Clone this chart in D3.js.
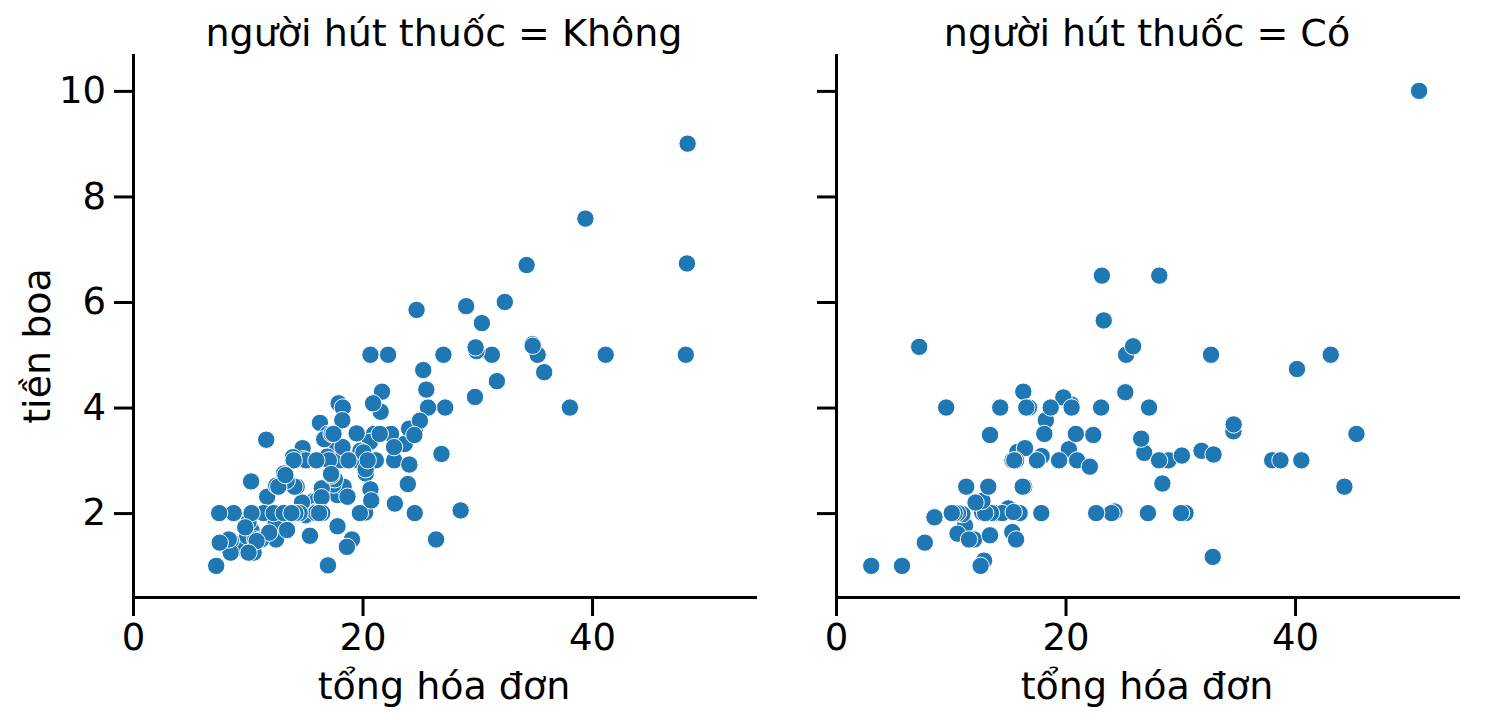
<!DOCTYPE html>
<html>
<head>
<meta charset="utf-8">
<script src="https://cdn.jsdelivr.net/npm/d3@7"></script>
<style>
  body { margin: 0; background: #fff; }
  svg text { font-family: "DejaVu Sans", sans-serif; fill: #000; }
</style>
</head>
<body>
<div id="chart"></div>
<script>
"use strict";

// người hút thuốc = Không (tổng hóa đơn, tiền boa)
const noBill = [16.99,10.34,21.01,23.68,24.59,25.29,8.77,26.88,15.04,14.78,10.27,35.26,15.42,18.43,14.83,21.58,10.33,16.29,16.97,20.65,
  17.92,20.29,15.77,39.42,19.82,17.81,13.37,12.69,21.7,19.65,9.55,18.35,15.06,20.69,17.78,24.06,16.31,16.93,18.69,31.27,
  16.04,17.46,13.94,9.68,30.4,18.29,22.23,32.4,28.55,18.04,12.54,10.29,34.81,9.94,25.56,19.49,26.41,48.27,17.59,20.08,
  16.45,20.23,12.02,17.07,14.73,10.51,27.2,22.76,17.29,16.66,10.07,15.98,34.83,13.03,18.28,24.71,21.16,22.49,22.75,12.46,
  20.92,18.24,14.0,7.25,38.07,23.95,25.71,17.31,29.93,10.65,12.43,24.08,11.69,13.42,14.26,15.95,12.48,29.8,8.52,14.52,
  11.38,22.82,19.08,20.27,11.17,12.26,18.26,8.51,10.33,14.15,13.16,17.47,34.3,41.19,27.05,16.43,8.35,18.64,11.87,9.78,
  7.51,14.07,13.13,17.26,24.55,19.77,29.85,48.17,25.0,13.39,16.49,21.5,12.66,16.21,13.81,24.52,20.76,31.71,20.69,7.56,
  48.33,15.98,20.45,13.28,11.61,10.77,10.07,35.83,29.03,17.82,18.78];
const noTip = [1.01,1.66,3.5,3.31,3.61,4.71,2.0,3.12,1.96,3.23,1.71,5.0,1.57,3.0,3.02,3.92,1.67,3.71,3.5,3.35,
  4.08,2.75,2.23,7.58,3.18,2.34,2.0,2.0,4.3,3.0,1.45,2.5,3.0,2.45,3.27,3.6,2.0,3.07,2.31,5.0,
  2.24,2.54,3.06,1.32,5.6,3.0,5.0,6.0,2.05,3.0,2.5,2.6,5.2,1.56,4.34,3.51,1.5,6.73,2.64,3.15,
  2.47,2.01,1.97,3.0,2.2,1.25,4.0,3.0,2.71,3.4,1.83,2.03,5.17,2.0,4.0,5.85,3.0,3.5,3.25,1.5,
  4.08,3.76,3.0,1.0,4.0,2.55,4.0,3.5,5.07,1.5,1.8,2.92,2.31,1.68,2.5,2.0,2.52,4.2,1.48,2.0,
  2.0,2.18,1.5,2.83,1.5,2.0,3.25,1.25,2.0,2.0,2.75,3.5,6.7,5.0,5.0,2.3,1.5,1.36,1.63,1.73,
  2.0,2.5,2.0,2.74,2.0,2.0,5.14,5.0,3.75,2.61,2.0,3.5,2.5,2.0,2.0,3.48,2.24,4.5,5.0,1.44,
  9.0,3.0,3.0,2.72,3.39,1.47,1.25,4.67,5.92,1.75,3.0];

// người hút thuốc = Có
const yesBill = [38.01,11.24,20.29,13.81,11.02,18.29,3.07,15.01,26.86,25.28,17.92,19.44,32.68,28.97,5.75,16.32,40.17,27.28,12.03,21.01,
  11.35,15.38,44.3,22.42,15.36,20.49,25.21,14.31,16.0,17.51,10.59,10.63,50.81,15.81,7.25,31.85,16.82,32.9,17.89,14.48,
  9.6,34.63,34.65,23.33,45.35,23.17,40.55,20.9,30.46,18.15,23.1,15.69,19.81,28.44,15.48,16.58,10.34,43.11,13.0,13.51,
  18.71,12.74,13.0,16.4,20.53,16.47,26.59,38.73,24.27,12.76,30.06,25.89,13.27,28.17,12.9,28.15,11.59,7.74,30.14,12.16,
  13.42,8.58,13.42,16.27,10.09,22.12,24.01,15.69,15.53,12.6,32.83,27.18,22.67];
const yesTip = [3.0,1.76,3.21,2.0,1.98,3.76,1.0,2.09,3.14,5.0,3.08,3.0,5.0,3.0,1.0,4.3,4.73,4.0,1.5,3.0,
  2.5,3.0,2.5,3.48,1.64,4.06,4.29,4.0,2.0,3.0,1.61,2.0,10.0,3.16,5.15,3.18,4.0,3.11,2.0,2.0,
  4.0,3.55,3.68,5.65,3.5,6.5,3.0,3.5,2.0,3.5,4.0,1.5,4.19,2.56,2.02,4.0,2.0,5.0,2.0,2.0,
  4.0,2.01,2.0,2.5,4.0,3.23,3.41,3.0,2.03,2.23,2.0,5.16,2.5,6.5,1.1,3.0,1.5,1.44,3.09,2.2,
  3.48,1.92,1.58,2.5,2.0,2.88,2.0,3.0,3.0,1.0,1.17,2.0,2.0];

const panelTitles = ["người hút thuốc = Không", "người hút thuốc = Có"];
const xTicks = [0, 20, 40];
const yTicks = [2, 4, 6, 8, 10];
const xLabel = "tổng hóa đơn",
    yLabel = "tiền boa";

const W = 1488, H = 720;
const panelLeft = [133, 836],
    panelWidth = 622,
    plotTop = 55,
    plotBottom = 597;
const tickLen = 19, tickPad = 8, lineW = 3;
const dotColor = "#1f77b4", dotR = 8.7;

const svg = d3.select("#chart").append("svg")
    .attr("width", W)
    .attr("height", H);

svg.append("rect").attr("width", W).attr("height", H).attr("fill", "#fff");

const x = d3.scaleLinear().domain([0, 54.2]).range([0, panelWidth]);
const y = d3.scaleLinear().domain([0.41, 10.68]).range([plotBottom, plotTop]);

const panels = [
    { bill: noBill, tip: noTip },
    { bill: yesBill, tip: yesTip }
];

panels.forEach((p, i) => {
    const g = svg.append("g").attr("transform", `translate(${panelLeft[i]},0)`);

    // dots
    const pts = p.bill.map((b, k) => ({ b: b, t: p.tip[k] }));
    g.append("g")
        .selectAll("circle")
        .data(pts)
        .enter()
        .append("circle")
        .attr("cx", d => x(d.b))
        .attr("cy", d => y(d.t))
        .attr("r", dotR)
        .attr("fill", dotColor)
        .attr("stroke", "#fff")
        .attr("stroke-width", 1);

    // x axis
    const xa = g.append("g")
        .attr("transform", `translate(0,${plotBottom})`)
        .call(d3.axisBottom(x).tickValues(xTicks).tickFormat(d3.format("d"))
            .tickSize(tickLen).tickSizeOuter(0).tickPadding(tickPad));

    // y axis
    const ya = g.append("g")
        .call(d3.axisLeft(y).tickValues(yTicks)
            .tickFormat(i === 0 ? d3.format("d") : () => "")
            .tickSize(tickLen).tickSizeOuter(0).tickPadding(tickPad));

    [xa, ya].forEach(a => {
        a.select(".domain").attr("stroke", "#000").attr("stroke-width", lineW).attr("stroke-linecap", "square");
        a.selectAll(".tick line").attr("stroke", "#000").attr("stroke-width", lineW);
        a.selectAll(".tick text").attr("font-size", 37).attr("font-family", "DejaVu Sans").attr("fill", "#000");
    });

    // title
    g.append("text")
        .attr("x", panelWidth / 2)
        .attr("y", 46)
        .attr("text-anchor", "middle")
        .attr("font-size", 38)
        .text(panelTitles[i]);

    // x label
    g.append("text")
        .attr("x", panelWidth / 2)
        .attr("y", 699)
        .attr("text-anchor", "middle")
        .attr("font-size", 38)
        .text(xLabel);
});

// y label (left panel only)
svg.append("text")
    .attr("transform", "translate(50,346) rotate(-90)")
    .attr("text-anchor", "middle")
    .attr("font-size", 38)
    .text(yLabel);
</script>
</body>
</html>
